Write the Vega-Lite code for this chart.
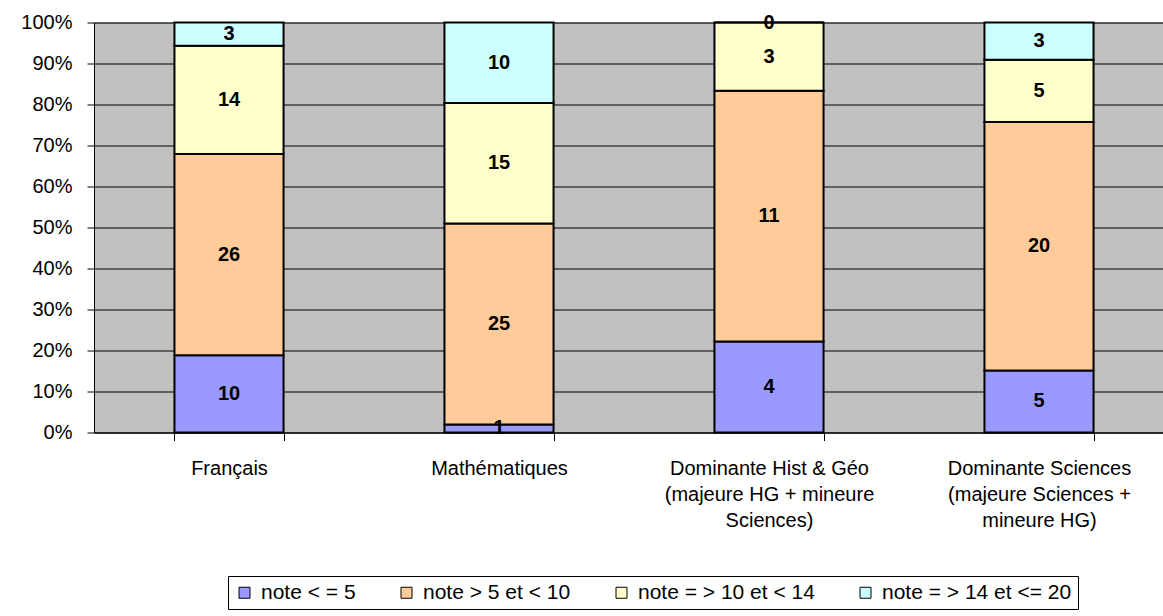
{
  "$schema": "https://vega.github.io/schema/vega-lite/v6.json",
  "autosize": "none",
  "width": 1080,
  "height": 410,
  "padding": {"left": 94, "top": 22.5, "right": 0, "bottom": 183.5},
  "background": "white",
  "config": {
    "view": {"fill": "#C0C0C0", "stroke": "#808080", "strokeWidth": 1},
    "font": "Liberation Sans"
  },
  "data": {
    "values": [
      {"matiere": "Français", "note": "note < = 5", "ordre": 1, "effectif": 10},
      {"matiere": "Français", "note": "note > 5 et < 10", "ordre": 2, "effectif": 26},
      {"matiere": "Français", "note": "note = > 10 et < 14", "ordre": 3, "effectif": 14},
      {"matiere": "Français", "note": "note = > 14 et <= 20", "ordre": 4, "effectif": 3},
      {"matiere": "Mathématiques", "note": "note < = 5", "ordre": 1, "effectif": 1},
      {"matiere": "Mathématiques", "note": "note > 5 et < 10", "ordre": 2, "effectif": 25},
      {"matiere": "Mathématiques", "note": "note = > 10 et < 14", "ordre": 3, "effectif": 15},
      {"matiere": "Mathématiques", "note": "note = > 14 et <= 20", "ordre": 4, "effectif": 10},
      {"matiere": "Dominante Hist & Géo (majeure HG + mineure Sciences)", "note": "note < = 5", "ordre": 1, "effectif": 4},
      {"matiere": "Dominante Hist & Géo (majeure HG + mineure Sciences)", "note": "note > 5 et < 10", "ordre": 2, "effectif": 11},
      {"matiere": "Dominante Hist & Géo (majeure HG + mineure Sciences)", "note": "note = > 10 et < 14", "ordre": 3, "effectif": 3},
      {"matiere": "Dominante Hist & Géo (majeure HG + mineure Sciences)", "note": "note = > 14 et <= 20", "ordre": 4, "effectif": 0},
      {"matiere": "Dominante Sciences (majeure Sciences + mineure HG)", "note": "note < = 5", "ordre": 1, "effectif": 5},
      {"matiere": "Dominante Sciences (majeure Sciences + mineure HG)", "note": "note > 5 et < 10", "ordre": 2, "effectif": 20},
      {"matiere": "Dominante Sciences (majeure Sciences + mineure HG)", "note": "note = > 10 et < 14", "ordre": 3, "effectif": 5},
      {"matiere": "Dominante Sciences (majeure Sciences + mineure HG)", "note": "note = > 14 et <= 20", "ordre": 4, "effectif": 3}
    ]
  },
  "transform": [
    {"stack": "effectif", "groupby": ["matiere"], "sort": [{"field": "ordre", "order": "ascending"}], "offset": "normalize", "as": ["y0", "y1"]},
    {"calculate": "(datum.y0 + datum.y1) / 2", "as": "ymid"}
  ],
  "layer": [
    {
      "mark": {"type": "bar", "stroke": "black", "strokeWidth": 2},
      "encoding": {
        "x": {
          "field": "matiere",
          "type": "nominal",
          "sort": ["Français", "Mathématiques", "Dominante Hist & Géo (majeure HG + mineure Sciences)", "Dominante Sciences (majeure Sciences + mineure HG)"],
          "scale": {"paddingInner": 0.596, "paddingOuter": 0.298},
          "axis": {
            "title": null,
            "labelAngle": 0,
            "tickBand": "extent",
            "tickSize": 8,
            "tickColor": "black",
            "domainColor": "black",
            "labelColor": "black",
            "labelFontSize": 20,
            "labelLineHeight": 26,
            "labelPadding": 18,
            "labelLimit": 0,
            "labelBaseline": "top",
            "grid": false,
            "labelExpr": "datum.label == 'Dominante Hist & Géo (majeure HG + mineure Sciences)' ? ['Dominante Hist & Géo', '(majeure HG + mineure', 'Sciences)'] : datum.label == 'Dominante Sciences (majeure Sciences + mineure HG)' ? ['Dominante Sciences', '(majeure Sciences +', 'mineure HG)'] : datum.label"
          }
        },
        "y": {
          "field": "y0",
          "type": "quantitative",
          "scale": {"domain": [0, 1], "nice": false},
          "axis": {
            "title": null,
            "values": [0, 0.1, 0.2, 0.3, 0.4, 0.5, 0.6, 0.7, 0.8, 0.9, 1],
            "format": ".0%",
            "labelFontSize": 20,
            "labelColor": "black",
            "tickColor": "black",
            "tickSize": 7,
            "labelPadding": 15,
            "domainColor": "black",
            "grid": true,
            "gridColor": "black",
            "gridWidth": 1
          }
        },
        "y2": {"field": "y1"},
        "color": {
          "field": "note",
          "type": "nominal",
          "scale": {
            "domain": ["note < = 5", "note > 5 et < 10", "note = > 10 et < 14", "note = > 14 et <= 20"],
            "range": ["#9999FF", "#FFCC99", "#FFFFCC", "#CCFFFF"]
          },
          "legend": {
            "title": null,
            "orient": "none",
            "direction": "horizontal",
            "legendX": 134,
            "legendY": 553.5,
            "strokeColor": "black",
            "padding": 6,
            "fillColor": "white",
            "labelFontSize": 21,
            "labelColor": "black",
            "labelLimit": 0,
            "symbolType": "square",
            "symbolSize": 121,
            "symbolStrokeColor": "black",
            "symbolStrokeWidth": 1,
            "symbolOpacity": 1,
            "columnPadding": 40,
            "labelOffset": 6
          }
        }
      }
    },
    {
      "mark": {"type": "text", "fontWeight": "bold", "fontSize": 20, "color": "black", "baseline": "middle"},
      "encoding": {
        "x": {
          "field": "matiere",
          "type": "nominal",
          "sort": ["Français", "Mathématiques", "Dominante Hist & Géo (majeure HG + mineure Sciences)", "Dominante Sciences (majeure Sciences + mineure HG)"]
        },
        "y": {"field": "ymid", "type": "quantitative"},
        "text": {"field": "effectif", "type": "quantitative"}
      }
    }
  ]
}
